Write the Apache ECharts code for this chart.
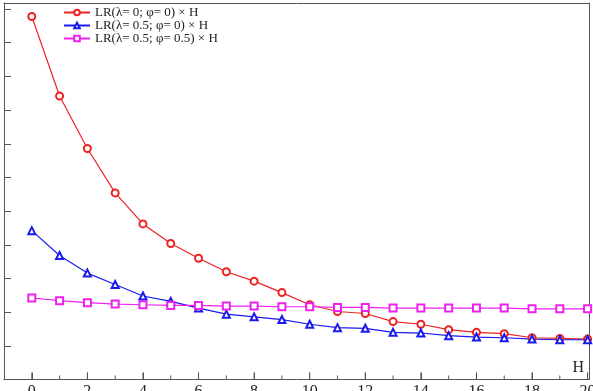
<!DOCTYPE html>
<html>
<head>
<meta charset="utf-8">
<script src="https://cdn.jsdelivr.net/npm/echarts@6/dist/echarts.min.js"></script>
<style>
  html, body { margin: 0; padding: 0; background: #fff; }
  #chart { width: 593px; height: 391px; }
</style>
</head>
<body>
<div id="chart"></div>
<script>
const hValues = [0, 1, 2, 3, 4, 5, 6, 7, 8, 9, 10, 11, 12, 13, 14, 15, 16, 17, 18, 19, 20];
const majorTicks = [0, 2, 4, 6, 8, 10, 12, 14, 16, 18, 20];
const minorTicks = [1, 3, 5, 7, 9, 11, 13, 15, 17, 19];

const seriesNames = [
  "LR(λ= 0; φ= 0) × H",
  "LR(λ= 0.5; φ= 0) × H",
  "LR(λ= 0.5; φ= 0.5) × H",
];

const lr00 = [5.39, 4.21, 3.43, 2.77, 2.31, 2.02, 1.80, 1.60, 1.46, 1.29, 1.11,
  1.01, 0.98, 0.86, 0.82, 0.74, 0.70, 0.68, 0.62, 0.61, 0.60];
const lr50 = [2.21, 1.84, 1.58, 1.41, 1.24, 1.16, 1.06, 0.97, 0.93, 0.89, 0.82,
  0.77, 0.76, 0.70, 0.69, 0.65, 0.63, 0.62, 0.60, 0.59, 0.59];
const lr55 = [1.21, 1.17, 1.14, 1.12, 1.11, 1.10, 1.10, 1.09, 1.09, 1.08, 1.08,
  1.07, 1.07, 1.06, 1.06, 1.06, 1.06, 1.06, 1.05, 1.05, 1.05];

const pairs = (ys) => hValues.map((h, i) => [h, ys[i]]);

const serif = "Liberation Serif";
const axisColor = "#555";
const xMin = -1;
const xMax = 20.05;
const yMax = 5.59;

const chart = echarts.init(document.getElementById("chart"), null, { renderer: "canvas" });

const makeSeries = (name, data, color, symbol) => ({
  name: name,
  type: "line",
  xAxisIndex: 0,
  yAxisIndex: 0,
  data: pairs(data),
  symbol: symbol,
  symbolSize: 7,
  color: color,
  lineStyle: { width: 1.2, color: color },
  itemStyle: { color: color, borderWidth: 1.2 },
  z: 3,
  animation: false,
});

// x-axis tick marks drawn as thin rects sitting on the bottom edge
const tickSeries = (name, ticks, len) => ({
  name: name,
  type: "scatter",
  xAxisIndex: 0,
  yAxisIndex: 0,
  data: ticks.map((t) => [t, 0]),
  symbol: "rect",
  symbolSize: [1, len],
  symbolOffset: [0, "-50%"],
  itemStyle: { color: axisColor, opacity: 1 },
  clip: false,
  silent: true,
  z: 1,
  animation: false,
});

// plain frame line for the top / right edges
const frameAxis = (pos) => ({
  type: "value",
  position: pos,
  min: pos === "top" ? xMin : 0,
  max: pos === "top" ? xMax : yMax,
  axisLine: { show: true, onZero: false, lineStyle: { color: axisColor } },
  axisTick: { show: false },
  axisLabel: { show: false },
  splitLine: { show: false },
});

option = {
  animation: false,
  grid: {
    left: 4,
    right: 4,
    top: 3,
    bottom: 11.5,
    outerBoundsMode: "none",
    containLabel: false,
  },
  legend: {
    orient: "vertical",
    left: 63,
    top: 6,
    itemWidth: 26,
    itemHeight: 7,
    itemGap: 0,
    padding: 0,
    textStyle: { fontFamily: serif, fontSize: 13, color: "#222", lineHeight: 13 },
    data: seriesNames,
  },
  xAxis: [
    {
      type: "value",
      position: "bottom",
      min: xMin,
      max: xMax,
      minInterval: 2,
      maxInterval: 2,
      splitNumber: 10,
      axisLine: { show: true, onZero: false, lineStyle: { color: axisColor } },
      splitLine: { show: false },
      axisTick: { show: true, inside: true, length: 7, lineStyle: { color: axisColor } },
      axisLabel: {
        show: true,
        showMinLabel: false,
        margin: 4,
        fontFamily: serif,
        fontSize: 16,
        color: "#222",
        formatter: (v) => (v >= 0 && v % 2 === 0 ? String(v) : ""),
      },
    },
    frameAxis("top"),
  ],
  yAxis: [
    {
      type: "value",
      position: "left",
      min: 0,
      max: yMax,
      interval: 0.5,
      axisLine: { show: true, onZero: false, lineStyle: { color: axisColor } },
      splitLine: { show: false },
      axisTick: { show: true, inside: true, length: 7, lineStyle: { color: axisColor } },
      axisLabel: { show: false },
    },
    frameAxis("right"),
  ],
  graphic: [
    {
      type: "text",
      right: 9,
      bottom: 15,
      style: { text: "H", font: "16px " + serif, fill: "#222" },
    },
  ],
  series: [
    tickSeries("majorTick", majorTicks, 7),
    tickSeries("minorTick", minorTicks, 4),
    makeSeries(seriesNames[0], lr00, "#ee2222", "emptyCircle"),
    makeSeries(seriesNames[1], lr50, "#1a1aee", "emptyTriangle"),
    makeSeries(seriesNames[2], lr55, "#ee22ee", "emptyRect"),
  ],
};

chart.setOption(option);
</script>
</body>
</html>
